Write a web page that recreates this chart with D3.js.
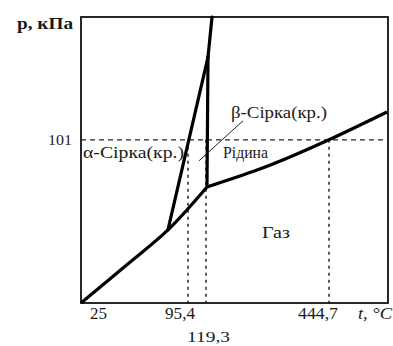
<!DOCTYPE html>
<html>
<head>
<meta charset="utf-8">
<script src="https://cdn.jsdelivr.net/npm/d3@7"></script>
<style>
  html, body { margin: 0; padding: 0; background: #fff; }
  svg { display: block; }
  text { font-family: "Liberation Serif", "DejaVu Serif", serif; fill: #1a1a1a; }
</style>
</head>
<body>
<svg id="chart" width="393" height="346"></svg>
<script>
// ---- data (t in °C, p in schematic kPa units) ----
const xTickValues = [25, 95.4, 119.3, 444.7];
const xTickLabels = ["25", "95,4", "119,3", "444,7"];
const yTickValues = [101];
const yTickLabels = ["101"];

// sublimation curve: solid sulfur <-> gas
const sublimation = [[25, 0], [55, 23.5], [82.2, 45.2], [121.9, 71.8]];
// vaporization curve: liquid <-> gas
const vaporization = [[121.9, 71.8], [254.2, 82.3], [341.5, 90.4], [444.7, 101], [597.4, 118.2]];
// α <-> β transition
const alphaBeta = [[82.2, 45.2], [124.6, 152.2]];
// β <-> liquid
const betaLiquid = [[121.9, 71.8], [124.6, 152.2]];
// α <-> liquid
const alphaLiquid = [[124.6, 152.2], [135.2, 177]];

const phaseLabels = ["α-Сірка(кр.)", "β-Сірка(кр.)", "Рідина", "Газ"];

// ---- scales ----
const x = d3.scaleLinear()
  .domain([25, 95.4, 119.3, 444.7, 600])
  .range([81, 188, 206, 329, 388]);
const y = d3.scaleLinear().domain([0, 177]).range([303, 17]);

const svg = d3.select("#chart");
const line = d3.line().x(d => x(d[0])).y(d => y(d[1]));
const curve = d3.line().x(d => x(d[0])).y(d => y(d[1])).curve(d3.curveCatmullRom.alpha(0.5));

// reference lines
svg.append("line")
  .attr("x1", x.range()[0]).attr("x2", x.range()[4])
  .attr("y1", y(101)).attr("y2", y(101))
  .attr("stroke", "#222").attr("stroke-width", 1.2).attr("stroke-dasharray", "5,4");

[95.4, 119.3, 444.7].forEach(t => {
  svg.append("line")
    .attr("x1", x(t)).attr("x2", x(t))
    .attr("y1", y(101)).attr("y2", y(0))
    .attr("stroke", "#333").attr("stroke-width", 1.6).attr("stroke-dasharray", "3,4");
});

// frame
svg.append("rect")
  .attr("x", x(25)).attr("y", y(177))
  .attr("width", x(600) - x(25)).attr("height", y(0) - y(177))
  .attr("fill", "none").attr("stroke", "#111").attr("stroke-width", 1.8);

// phase boundaries
const thick = 3.2;
svg.append("path").attr("d", curve(sublimation)).attr("fill", "none").attr("stroke", "#000").attr("stroke-width", thick).attr("stroke-linejoin", "round");
svg.append("path").attr("d", curve(vaporization)).attr("fill", "none").attr("stroke", "#000").attr("stroke-width", thick).attr("stroke-linejoin", "round");
[alphaBeta, betaLiquid, alphaLiquid].forEach(seg => {
  svg.append("path").attr("d", line(seg)).attr("fill", "none").attr("stroke", "#000").attr("stroke-width", thick).attr("stroke-linecap", "round");
});

// leader line for β label
svg.append("line")
  .attr("x1", x(119.3) + 37).attr("y1", y(101) - 19)
  .attr("x2", x(119.3) - 7).attr("y2", y(101) + 21)
  .attr("stroke", "#222").attr("stroke-width", 1);

function label(txt, px, py, size, len, anchor, extra) {
  const t = svg.append("text").attr("x", px).attr("y", py)
    .attr("text-anchor", anchor || "start")
    .style("font-size", size + "px")
    .attr("textLength", len).attr("lengthAdjust", "spacingAndGlyphs")
    .text(txt);
  if (extra) extra(t);
  return t;
}

// axis labels
label("p, кПа", 17, 29, 16, 56, "start", t => t.style("font-weight", "bold"));
label(yTickLabels[0], 48, y(yTickValues[0]) + 5, 15, 24, "start");

const tickPos = [[90, 319, 17, 16], [165, 319, 30, 16], [187, 342, 43, 15], [298, 319, 40, 16]];
xTickValues.forEach((t, i) => {
  label(xTickLabels[i], tickPos[i][0], tickPos[i][1], tickPos[i][3], tickPos[i][2], "start");
});
label("t, °C", 358, 319, 16, 34, "start", t => t.style("font-style", "italic"));

// phase labels
label(phaseLabels[0], x(25) + 2, y(101) + 18, 16, 101, "start");
label(phaseLabels[1], x(119.3) + 25, y(101) - 22, 16, 96, "start");
label(phaseLabels[2], x(119.3) + 17, y(101) + 18, 16, 45, "start");
label(phaseLabels[3], 262, 238, 16, 28, "start");
</script>
</body>
</html>
